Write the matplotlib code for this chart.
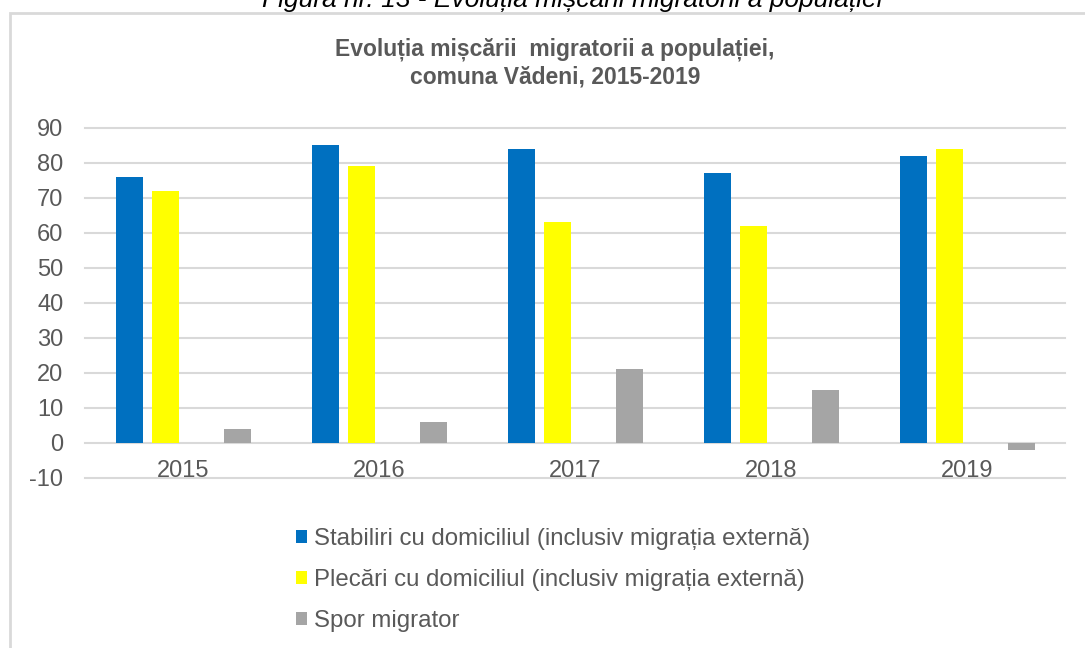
import matplotlib.pyplot as plt
from matplotlib.patches import Rectangle

plt.rcParams['font.family'] = ['Liberation Sans', 'DejaVu Sans']

years = ["2015", "2016", "2017", "2018", "2019"]
stabiliri = [76, 85, 84, 77, 82]
plecari = [72, 79, 63, 62, 84]
spor = [4, 6, 21, 15, -2]

labels = ["Stabiliri cu domiciliul (inclusiv migrația externă)",
          "Plecări cu domiciliul (inclusiv migrația externă)",
          "Spor migrator"]
colors = ["#0070C0", "#FFFF00", "#A5A5A5"]
yticks = list(range(-10, 100, 10))

txt = "#595959"
W, H = 1085, 648
fig = plt.figure(figsize=(W / 100, H / 100), dpi=100)

# outer chart frame (runs off the right and bottom edge)
fig.patches.append(Rectangle((10 / W, -0.1), 1.2, 1.1 - 13.5 / H,
                             transform=fig.transFigure, fill=False,
                             edgecolor="#D9D9D9", linewidth=2))

# caption of the figure, only its lower part is inside the picture
fig.text(572 / W, 1 - 7 / H,
         "Figura nr. 13 - Evoluția mișcării migratorii a populației",
         ha="center", va="baseline", fontsize=19, style="italic", color="black")

fig.text(555 / W, 1 - 63 / H,
         "Evoluția mișcării  migratorii a populației,\ncomuna Vădeni, 2015-2019",
         ha="center", va="center", fontsize=16.5, fontweight="bold",
         color=txt, linespacing=1.2)

ax = fig.add_axes([85 / W, 1 - 477.7 / H, 980 / W, 350 / H])

# four slots per year, the third one is empty in the original chart
slot = 36 / 196
bw = 27 / 196
slots = [0, 1, 3]
x = list(range(len(years)))
bars = []
for series, s, c, lab in zip([stabiliri, plecari, spor], slots, colors, labels):
    pos = [i + (s - 1.5) * slot for i in x]
    bars.append(ax.bar(pos, series, width=bw, color=c, label=lab, zorder=2))

for y in yticks:
    ax.axhline(y, color="#D9D9D9", linewidth=1.5, zorder=0, clip_on=False)

ax.set_xlim(-0.5, len(years) - 0.5)
ax.set_ylim(-10, 90)
ax.set_yticks(yticks)
ax.set_yticklabels([str(v) for v in yticks])
ax.set_xticks([])
ax.tick_params(axis="y", length=0, pad=15.5, labelsize=17, labelcolor=txt)
for sp in ax.spines.values():
    sp.set_visible(False)

for i, yr in enumerate(years):
    ax.annotate(yr, (i, 0), xytext=(0, -20.7), textcoords="offset points",
                ha="center", va="center", fontsize=17, color=txt)

fig.legend(handles=bars, loc="upper left",
           bbox_to_anchor=(296 / W, 1 - 528 / H), frameon=False,
           fontsize=17.3, labelcolor=txt, handlelength=0.45, handleheight=0.45,
           handletextpad=0.3, labelspacing=0.8, borderaxespad=0, borderpad=0)

fig.savefig("out.png", dpi=100)
